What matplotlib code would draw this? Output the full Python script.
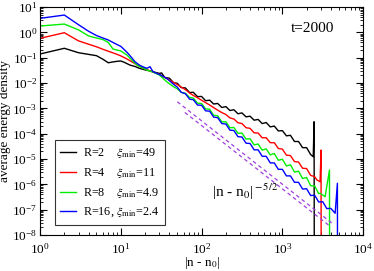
import matplotlib
matplotlib.use("Agg")
import matplotlib.pyplot as plt
import numpy as np

plt.rcParams['font.family'] = 'serif'
plt.rcParams['font.serif'] = ['Liberation Serif', 'DejaVu Serif']
plt.rcParams['mathtext.fontset'] = 'stix'

# |n - n0| values (integer steps near the origin, then the noisy tail)
n_head = [1, 2, 3, 4, 5, 6, 7, 8, 9, 10]

n_black = n_head + [11, 13, 15, 17, 20, 23, 26, 30, 32, 35, 40, 45, 50, 56, 63, 71,
                    79, 89, 100, 112, 126, 141, 158, 178, 200, 224, 251, 282, 316,
                    355, 398, 447, 501, 562, 631, 708, 794, 891, 1000, 1122, 1259,
                    1413, 1585, 1778, 1995, 2239, 2410, 2470, 2490]
e_black = [0.14, 0.235, 0.157, 0.135, 0.12, 0.087, 0.063, 0.068, 0.072, 0.074,
           0.066, 0.051, 0.045, 0.038, 0.033, 0.030, 0.027, 0.024, 0.025, 0.0165,
           0.0155, 0.0102, 9.8e-3, 6.6e-3, 6.4e-3, 4.2e-3, 4.3e-3, 2.9e-3, 2.95e-3,
           2.0e-3, 2.1e-3, 1.48e-3, 1.56e-3, 1.08e-3, 1.17e-3, 8.2e-4, 8.8e-4, 6.1e-4,
           6.6e-4, 4.6e-4, 4.9e-4, 3.4e-4, 3.65e-4, 2.5e-4, 2.75e-4, 1.85e-4, 2.0e-4,
           1.28e-4, 1.32e-4, 8.2e-5, 8.6e-5, 4.9e-5, 4.9e-5, 2.8e-5, 2.8e-5, 1.5e-5,
           1.23e-5, 2.96e-4, 1e-12]

n_red = n_head + [12, 14, 17, 20, 25, 30, 40, 50, 56, 63, 72, 79, 89, 100, 112, 126,
                  141, 158, 178, 200, 224, 251, 282, 316, 355, 398, 447, 501, 562,
                  631, 708, 794, 891, 1000, 1122, 1259, 1413, 1585, 1778, 1995, 2239,
                  2512, 2680, 2930, 3010, 3030]
e_red = [0.58, 0.97, 0.46, 0.34, 0.27, 0.215, 0.18, 0.155, 0.135, 0.118,
         0.088, 0.066, 0.046, 0.036, 0.027, 0.022, 0.0131, 8.7e-3, 6.9e-3, 5.5e-3,
         3.92e-3, 3.24e-3, 2.61e-3, 2.09e-3, 1.68e-3, 1.35e-3, 1.07e-3, 8.5e-4,
         6.8e-4, 5.7e-4, 4.2e-4, 3.8e-4, 2.7e-4, 2.5e-4, 1.72e-4, 1.62e-4, 1.08e-4,
         1.06e-4, 6.9e-5, 6.9e-5, 4.4e-5, 4.4e-5, 2.6e-5, 2.45e-5, 1.42e-5, 1.36e-5,
         7.9e-6, 7.6e-6, 4.3e-6, 4.2e-6, 2.25e-6, 2.0e-6, 1.48e-6, 1.27e-6, 2.26e-5,
         1e-12]

n_green = n_head + [12, 14, 16, 18, 21, 25, 30, 37, 45, 50, 56, 63, 71, 79, 89, 100,
                    112, 126, 141, 158, 178, 200, 224, 251, 282, 316, 355, 398, 447,
                    501, 562, 631, 708, 794, 891, 1000, 1122, 1259, 1413, 1585, 1778,
                    1995, 2239, 2512, 2818, 2930, 3380, 3830, 3850]
e_green = [1.78, 2.13, 1.25, 0.72, 0.6, 0.52, 0.4, 0.22, 0.2, 0.185,
           0.125, 0.075, 0.05, 0.042, 0.0326, 0.027, 0.0207, 0.0112, 7.1e-3, 5.9e-3,
           4.3e-3, 3.9e-3, 2.7e-3, 2.55e-3, 1.6e-3, 1.55e-3, 9.5e-4, 9.2e-4, 5.3e-4,
           5.1e-4, 2.9e-4, 2.95e-4, 1.72e-4, 1.75e-4, 1.03e-4, 1.05e-4, 6.1e-5, 6.3e-5,
           3.6e-5, 3.9e-5, 2.25e-5, 2.5e-5, 1.45e-5, 1.65e-5, 8.9e-6, 9.8e-6, 5.3e-6,
           5.9e-6, 3.05e-6, 3.3e-6, 1.7e-6, 1.85e-6, 8.8e-7, 8.6e-7, 4.3e-7, 4.4e-7,
           3.24e-7, 3.67e-6, 1e-12]

n_blue = n_head + [11, 12, 13, 15, 17, 19, 21, 23, 25, 28, 31, 37, 45, 50, 56, 63, 71,
                   79, 89, 100, 112, 126, 141, 158, 178, 200, 224, 251, 282, 316, 355,
                   398, 447, 501, 562, 631, 708, 794, 891, 1000, 1122, 1259, 1413,
                   1585, 1778, 1995, 2239, 2512, 2818, 3162, 3548, 3981, 4500, 4800,
                   4830]
e_blue = [3.58, 4.83, 2.0, 1.1, 0.75, 0.6, 0.5, 0.4, 0.33, 0.28,
          0.21, 0.16, 0.12, 0.069, 0.051, 0.043, 0.038, 0.044, 0.028, 0.024, 0.0207,
          0.0153, 8.9e-3, 6.9e-3, 4.3e-3, 3.8e-3, 2.3e-3, 2.2e-3, 1.35e-3, 1.32e-3,
          8.0e-4, 7.7e-4, 4.5e-4, 4.3e-4, 2.5e-4, 2.4e-4, 1.38e-4, 1.33e-4, 7.6e-5,
          7.4e-5, 4.2e-5, 4.1e-5, 2.3e-5, 2.3e-5, 1.28e-5, 1.27e-5, 7.0e-6, 7.0e-6,
          3.9e-6, 3.9e-6, 2.15e-6, 2.15e-6, 1.2e-6, 1.2e-6, 6.5e-7, 6.7e-7, 3.6e-7,
          3.7e-7, 2.0e-7, 2.05e-7, 1.1e-7, 1.12e-7, 7.2e-8, 1.1e-6, 1e-12]

labels = ['R=2    $\\xi_{\\rm min}$=49', 'R=4    $\\xi_{\\rm min}$=11',
          'R=8    $\\xi_{\\rm min}$=4.9', 'R=16, $\\xi_{\\rm min}$=2.4']

# |n - n0|^(-5/2) guide lines
n_guide = [50, 4130]
e_guide1 = [1.82e-3, 2.9e-8]
n_guide2 = [62, 3900]
e_guide2 = [6.9e-4, 2.2e-8]

fig = plt.figure(figsize=(3.74, 2.71), dpi=100)
ax = fig.add_subplot(111)
fig.subplots_adjust(left=0.107, right=0.971, bottom=0.133, top=0.974)

ax.plot(n_black, e_black, color='black', lw=1.0, label=labels[0])
ax.plot(n_red, e_red, color='#ff0000', lw=1.0, label=labels[1])
ax.plot(n_green, e_green, color='#00ee00', lw=1.0, label=labels[2])
ax.plot(n_blue, e_blue, color='#0000ff', lw=1.0, label=labels[3])
ax.plot(n_guide, e_guide1, color='#a040e0', lw=0.9, ls=(0, (3, 2.5)))
ax.plot(n_guide2, e_guide2, color='#a040e0', lw=0.9, ls=(0, (3, 2.5)))

ax.set_xscale('log')
ax.set_yscale('log')
ax.set_xlim(1, 1e4)
ax.set_ylim(1e-8, 10)
ax.set_yticks([10.0 ** k for k in range(-8, 2)])
ax.tick_params(which='both', direction='in', top=True, right=True, labelsize=9.5, pad=2)
ax.tick_params(axis='x', pad=5)
ax.tick_params(which='major', length=5)
ax.tick_params(which='minor', length=2.5)
ax.yaxis.set_minor_locator(matplotlib.ticker.LogLocator(base=10, subs=np.arange(2, 10), numticks=20))
ax.set_xlabel('|n - n$_0$|', fontsize=9.5, labelpad=-1)
ax.set_ylabel('average energy density', fontsize=9.5, labelpad=1)

ax.text(0.842, 0.905, 't=2000', transform=ax.transAxes, fontsize=11,
        ha='center', va='center')
ax.text(0.533, 0.19, '|n - n$_0$|$^{\\rm -5/2}$', transform=ax.transAxes, fontsize=11,
        ha='left', va='center')

leg = ax.legend(loc='lower left', bbox_to_anchor=(0.046, 0.044), borderaxespad=0,
                fontsize=8.7, handlelength=1.3, handletextpad=0.6, labelspacing=0.5,
                fancybox=False, frameon=True, borderpad=0.45)
leg.get_frame().set_edgecolor('black')
leg.get_frame().set_linewidth(0.8)

fig.savefig('out.png', dpi=100)
